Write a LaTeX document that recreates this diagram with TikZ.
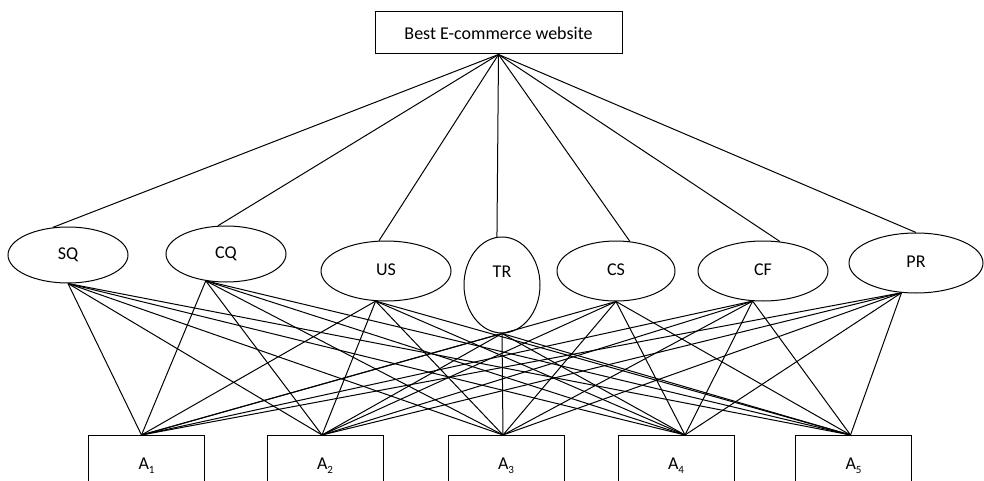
\documentclass[tikz,border=0pt]{standalone}
\usepackage{fontspec}
\setmainfont{Carlito}
\usetikzlibrary{shapes.geometric}
\newcommand{\lowsub}[1]{\raisebox{-0.5ex}{\fontsize{11}{12}\selectfont #1}}

\tikzset{
	crit/.style={draw, ellipse, inner sep=0pt, text height=12pt, text depth=3pt, line width=1pt},
	altbox/.style={draw, rectangle, anchor=north, minimum width=116pt, minimum height=60pt, line width=1pt},
	link/.style={line width=1pt}
}

\begin{document}
\begin{tikzpicture}[x=1pt, y=-1pt, font=\fontsize{18}{20}\selectfont]
	\useasboundingbox (0,0) rectangle (984,481);
	% goal
	\node[draw, line width=1pt, minimum width=247pt, minimum height=42pt] (goal) at (498.5,33) {Best E-commerce website};
	% criteria
	\node[crit, minimum width=120pt, minimum height=56pt] (SQ) at (68,255) {SQ};
	\node[crit, minimum width=120pt, minimum height=56pt] (CQ) at (226,254) {CQ};
	\node[crit, minimum width=130pt, minimum height=60pt] (US) at (386,271) {US};
	\node[crit, minimum width=76pt, minimum height=96pt, text depth=27pt] (TR) at (502,285) {TR};
	\node[crit, minimum width=118pt, minimum height=60pt] (CS) at (616,271) {CS};
	\node[crit, minimum width=130pt, minimum height=60pt] (CF) at (763,271) {CF};
	\node[crit, minimum width=134pt, minimum height=60pt] (PR) at (916,263) {PR};
	% alternatives
	\node[altbox] (A1) at (146.5,435) {A\lowsub{1}};
	\node[altbox] (A2) at (325,435) {A\lowsub{2}};
	\node[altbox] (A3) at (506,435) {A\lowsub{3}};
	\node[altbox] (A4) at (676,435) {A\lowsub{4}};
	\node[altbox] (A5) at (853.5,435) {A\lowsub{5}};
	% where the links meet each box
	\foreach \k/\dx in {1/-5, 2/-3, 3/-3, 4/9, 5/-3}
		\coordinate (in\k) at ([xshift=\dx pt]A\k.north);
	% goal -- criteria
	\foreach \c/\a in {SQ/119, CQ/106, US/103, TR/96, CS/65, CF/60, PR/90}
		\draw[link] (goal.south) -- (\c.\a);
	% criteria -- alternatives
	\foreach \c/\b in {SQ/270, CQ/233, US/251, TR/270, CS/270, CF/251, PR/244}
		\foreach \k in {1,...,5}
			\draw[link] (\c.\b) -- (in\k);
\end{tikzpicture}
\end{document}
